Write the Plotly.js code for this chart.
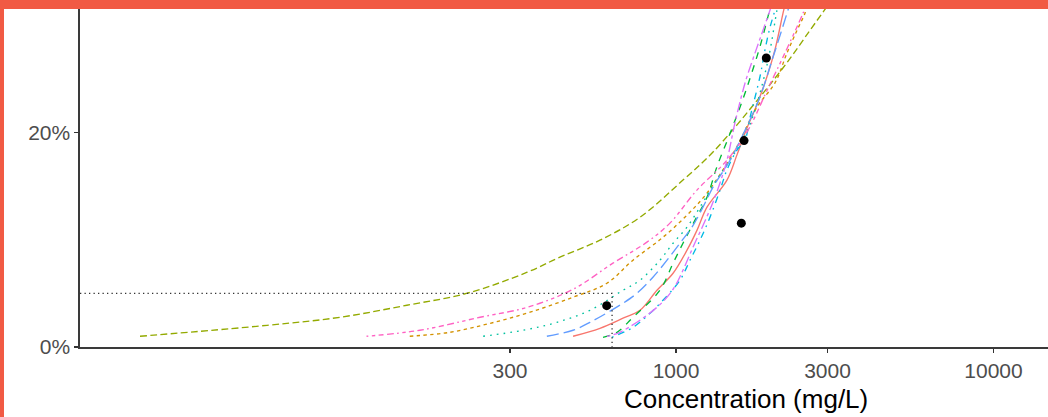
<!DOCTYPE html>
<html>
<head>
<meta charset="utf-8">
<script src="https://cdn.plot.ly/plotly-3.0.1.min.js"></script>
<style>
  html, body { margin: 0; padding: 0; width: 1048px; height: 417px; overflow: hidden; background: #F15A44; }
  #frame { position: absolute; left: 4px; top: 9px; width: 1044px; height: 408px; background: #ffffff; }
  #chart { width: 1044px; height: 408px; }
</style>
</head>
<body>
<div id="frame"><div id="chart"></div></div>
<script>
// ---- data (concentration in mg/L, cumulative percent) ----
const redConc    = [474, 576, 681, 770, 871, 979, 1083, 1165, 1252, 1447, 1556, 1673, 1799, 1935, 2050, 2173, 2221];
const redPct     = [1.0, 1.74, 2.68, 3.42, 5.29, 6.87, 9.02, 10.89, 13.03, 15.55, 17.9, 20.4, 22.6, 25.2, 27.7, 31.1, 32.3];

const orangeConc = [145, 194, 260, 347, 474, 606, 732, 910, 1083, 1252, 1534, 1799, 2050, 2237, 2405, 2548, 2623];
const orangePct  = [1.0, 1.37, 2.21, 3.24, 4.64, 5.94, 8.09, 10.23, 12.29, 14.34, 18.35, 22.36, 24.6, 27.4, 29.5, 31.1, 32.3];

const oliveConc  = [20.5, 51.5, 87.5, 142, 220, 340, 431, 576, 771, 1052, 1308, 1839, 2237, 2642, 2969, 3169];
const olivePct   = [1.0, 2.02, 2.77, 3.89, 5.01, 6.97, 8.37, 9.95, 12.1, 15.55, 18.16, 23.3, 26.5, 29.5, 31.6, 32.8];

const greenConc  = [589, 652, 732, 890, 979, 1052, 1148, 1252, 1346, 1480, 1625, 1735, 1839, 1949, 2006];
const greenPct   = [0.9, 1.37, 2.77, 5.29, 7.81, 9.67, 11.82, 13.96, 16.8, 19.9, 23.1, 25.6, 28.0, 30.8, 32.3];

const tealConc   = [247, 330, 422, 536, 681, 770, 890, 979, 1083, 1190, 1299, 1650, 1774, 1949, 2080, 2111];
const tealPct    = [1.0, 1.56, 2.30, 3.42, 5.29, 6.22, 8.09, 9.67, 11.17, 13.03, 14.9, 19.7, 22.1, 26.7, 31.4, 32.3];

const cyanConc   = [628, 732, 828, 910, 1029, 1107, 1190, 1280, 1376, 1447, 1556, 1650, 1711, 1839, 1907, 1978, 2050, 2080];
const cyanPct    = [0.9, 1.83, 3.14, 4.36, 6.22, 8.09, 9.95, 12.1, 14.6, 16.5, 18.35, 19.3, 21.4, 25.2, 27.7, 29.8, 31.4, 32.3];

const blueConc   = [392, 474, 536, 681, 754, 846, 937, 1029, 1123, 1216, 1308, 1480, 1650, 1839, 2006, 2141, 2253, 2302];
const bluePct    = [1.0, 1.56, 2.30, 4.08, 5.01, 6.50, 8.09, 9.67, 11.17, 13.03, 14.9, 17.4, 20.2, 23.3, 26.7, 29.3, 31.4, 32.3];

const purpleConc = [606, 666, 871, 979, 1052, 1131, 1234, 1337, 1447, 1534, 1650, 1774, 1879, 1978, 2021];
const purplePct  = [1.0, 1.37, 3.70, 5.38, 7.15, 9.30, 11.73, 14.24, 17.4, 20.9, 24.6, 27.4, 29.5, 31.4, 32.3];

const pinkConc   = [106, 156, 241.5, 340, 474, 633, 810, 957, 1164, 1447, 1686, 1935, 2204, 2512, 2604];
const pinkPct    = [1.0, 1.56, 2.77, 3.70, 5.38, 7.81, 9.77, 11.54, 14.62, 17.4, 20.2, 23.9, 27.4, 31.1, 32.3];

const pointConc  = [605, 1606, 1638, 1925];
const pointPct   = [3.85, 11.54, 19.23, 26.92];

const hcConc = 629;   // HC5 concentration
const hcPct  = 5;     // 5 %

const xTickVals   = [300, 1000, 3000, 10000];
const xTickLabels = ['300', '1000', '3000', '10000'];
const yTickVals   = [0, 20];
const yTickLabels = ['0%', '20%'];

// ---- styles ----
const u = 1.7;
const d = arr => arr.map(v => (v * u).toFixed(1) + 'px').join(',');
const series = [
  {name: 'fit 1', x: redConc,    y: redPct,    color: '#F8766D', dash: 'solid'},
  {name: 'fit 2', x: orangeConc, y: orangePct, color: '#D39200', dash: d([2,2])},
  {name: 'fit 3', x: oliveConc,  y: olivePct,  color: '#93AA00', dash: d([4,2])},
  {name: 'fit 4', x: greenConc,  y: greenPct,  color: '#00BA38', dash: d([4,4])},
  {name: 'fit 5', x: tealConc,   y: tealPct,   color: '#00C19F', dash: d([1,3])},
  {name: 'fit 6', x: cyanConc,   y: cyanPct,   color: '#00B9E3', dash: d([1,3,4,3])},
  {name: 'fit 7', x: blueConc,   y: bluePct,   color: '#619CFF', dash: d([7,3])},
  {name: 'fit 8', x: purpleConc, y: purplePct, color: '#DB72FB', dash: d([2,2,6,2])},
  {name: 'fit 9', x: pinkConc,   y: pinkPct,   color: '#FF61C3', dash: d([1,2,2,2,3,2,4,2])}
];

const xRange = [1.12283, 4.17165];
const traces = series.map(s => ({
  type: 'scatter', mode: 'lines', name: s.name, x: s.x, y: s.y,
  line: {color: s.color, width: 1.35, dash: s.dash, shape: 'spline', smoothing: 1.0},
  hoverinfo: 'skip'
}));

traces.push({
  type: 'scatter', mode: 'lines', name: 'HC5',
  x: [Math.pow(10, xRange[0]), hcConc, hcConc], y: [hcPct, hcPct, 0],
  line: {color: '#333333', width: 1.3, dash: '1.3px,3.2px'}
});

traces.push({
  type: 'scatter', mode: 'markers', name: 'data',
  x: pointConc, y: pointPct,
  marker: {color: '#000000', size: 9}
});

const tickFont = {family: 'Liberation Sans, Arial, sans-serif', size: 21, color: '#4D4D4D'};

const layout = {
  width: 1044, height: 408,
  margin: {l: 76, r: 0, t: 0, b: 70, pad: 0},
  paper_bgcolor: '#ffffff', plot_bgcolor: '#ffffff',
  showlegend: false,
  xaxis: {
    type: 'log', range: xRange, showgrid: false, zeroline: false,
    showline: true, linecolor: '#3a3a3a', linewidth: 1.6,
    ticks: 'outside', ticklen: 4, tickwidth: 1.3, tickcolor: '#333333',
    tickvals: xTickVals, ticktext: xTickLabels, tickfont: tickFont
  },
  yaxis: {
    range: [0, 31.49], showgrid: false, zeroline: false,
    showline: true, linecolor: '#3a3a3a', linewidth: 1.6,
    ticks: 'outside', ticklen: 4, tickwidth: 1.3, tickcolor: '#333333',
    tickvals: yTickVals, ticktext: yTickLabels, tickfont: tickFont
  },
  annotations: [{
    text: 'Concentration (mg/L)', xref: 'paper', yref: 'paper',
    x: 0.6885, y: 0, xanchor: 'center', yanchor: 'middle', yshift: -52,
    showarrow: false,
    font: {family: 'Liberation Sans, Arial, sans-serif', size: 26, color: '#000000'}
  }]
};

Plotly.newPlot('chart', traces, layout, {displayModeBar: false, staticPlot: true});
</script>
</body>
</html>
